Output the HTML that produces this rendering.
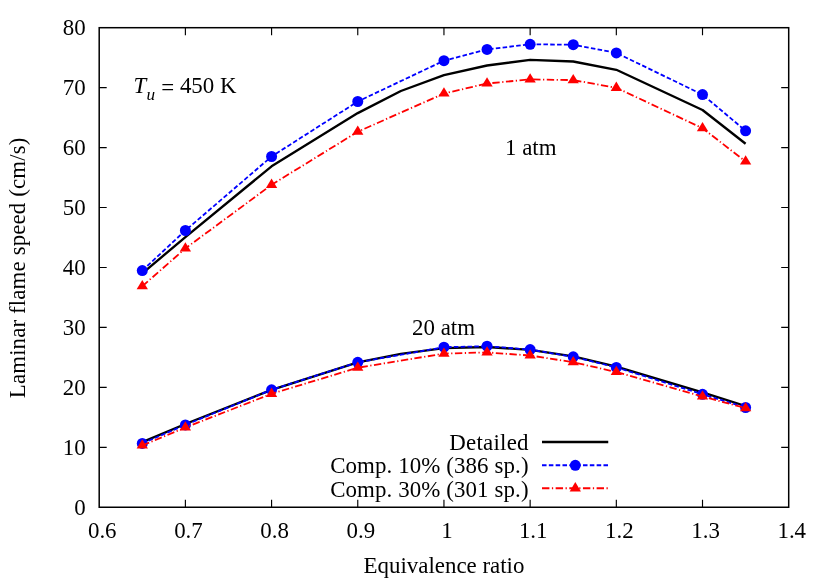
<!DOCTYPE html>
<html><head><meta charset="utf-8"><title>Laminar flame speed</title>
<style>html,body{margin:0;padding:0;background:#fff;}body{width:830px;height:581px;overflow:hidden;font-family:"Liberation Serif",serif;}</style></head>
<body>
<svg width="830" height="581" viewBox="0 0 830 581" style="display:block;will-change:transform">
<rect width="830" height="581" fill="#fff"/>
<g font-family="Liberation Serif, serif" font-size="22.9" fill="#000">
<text x="102.25" y="537.5" text-anchor="middle">0.6</text>
<text x="188.44" y="537.5" text-anchor="middle">0.7</text>
<text x="274.63" y="537.5" text-anchor="middle">0.8</text>
<text x="360.81" y="537.5" text-anchor="middle">0.9</text>
<text x="447.00" y="537.5" text-anchor="middle">1</text>
<text x="533.19" y="537.5" text-anchor="middle">1.1</text>
<text x="619.38" y="537.5" text-anchor="middle">1.2</text>
<text x="705.56" y="537.5" text-anchor="middle">1.3</text>
<text x="791.75" y="537.5" text-anchor="middle">1.4</text>
<text x="85.6" y="514.75" text-anchor="end">0</text>
<text x="85.6" y="454.81" text-anchor="end">10</text>
<text x="85.6" y="394.86" text-anchor="end">20</text>
<text x="85.6" y="334.92" text-anchor="end">30</text>
<text x="85.6" y="274.98" text-anchor="end">40</text>
<text x="85.6" y="215.03" text-anchor="end">50</text>
<text x="85.6" y="155.09" text-anchor="end">60</text>
<text x="85.6" y="95.14" text-anchor="end">70</text>
<text x="85.6" y="35.20" text-anchor="end">80</text>
<path d="M185.39 507.25V499.75M185.39 27.7V35.2M271.58 507.25V499.75M271.58 27.7V35.2M357.76 507.25V499.75M357.76 27.7V35.2M443.95 507.25V499.75M443.95 27.7V35.2M530.14 507.25V499.75M530.14 27.7V35.2M616.33 507.25V499.75M616.33 27.7V35.2M702.51 507.25V499.75M702.51 27.7V35.2M99.2 447.31H106.7M788.7 447.31H781.2M99.2 387.36H106.7M788.7 387.36H781.2M99.2 327.42H106.7M788.7 327.42H781.2M99.2 267.48H106.7M788.7 267.48H781.2M99.2 207.53H106.7M788.7 207.53H781.2M99.2 147.59H106.7M788.7 147.59H781.2M99.2 87.64H106.7M788.7 87.64H781.2" stroke="#000" stroke-width="1.15" fill="none"/>
<rect x="99.2" y="27.7" width="689.50" height="479.55" fill="none" stroke="#000" stroke-width="1.5"/>
<text x="444" y="572.5" text-anchor="middle">Equivalence ratio</text>
<text transform="translate(25.2,267.9) rotate(-90)" text-anchor="middle" textLength="260.6" lengthAdjust="spacing">Laminar flame speed (cm/s)</text>
<text x="133.5" y="93.1"><tspan font-style="italic">T</tspan><tspan font-style="italic" font-size="17.2" dy="6.9" dx="0.2">u</tspan><tspan dy="-4.9" dx="0.5"> =</tspan><tspan dy="-2"> 450 K</tspan></text>
<text x="505" y="155">1 atm</text>
<text x="412.1" y="335">20 atm</text>
<text x="528.5" y="449.8" text-anchor="end" textLength="79.3" lengthAdjust="spacing">Detailed</text>
<text x="528.5" y="473.2" text-anchor="end" textLength="198.3" lengthAdjust="spacing">Comp. 10% (386 sp.)</text>
<text x="528.5" y="496.6" text-anchor="end" textLength="198.3" lengthAdjust="spacing">Comp. 30% (301 sp.)</text>
</g>
<polyline points="142.29,273.30 185.39,237.20 271.58,166.30 357.76,113.10 400.86,91.00 443.95,75.20 487.04,65.50 530.14,59.80 573.23,61.50 616.33,69.80 702.51,110.00 745.61,143.70" fill="none" stroke="#000" stroke-width="2.35" stroke-linejoin="round"/>
<polyline points="142.29,270.60 185.39,230.50 271.58,156.50 357.76,101.50 443.95,60.70 487.04,49.40 530.14,44.30 573.23,44.70 616.33,52.90 702.51,94.60 745.61,130.80" fill="none" stroke="#0000ff" stroke-width="1.8" stroke-dasharray="4.55 2.28"/>
<circle cx="142.29" cy="270.60" r="5.5" fill="#0000ff"/>
<circle cx="185.39" cy="230.50" r="5.5" fill="#0000ff"/>
<circle cx="271.58" cy="156.50" r="5.5" fill="#0000ff"/>
<circle cx="357.76" cy="101.50" r="5.5" fill="#0000ff"/>
<circle cx="443.95" cy="60.70" r="5.5" fill="#0000ff"/>
<circle cx="487.04" cy="49.40" r="5.5" fill="#0000ff"/>
<circle cx="530.14" cy="44.30" r="5.5" fill="#0000ff"/>
<circle cx="573.23" cy="44.70" r="5.5" fill="#0000ff"/>
<circle cx="616.33" cy="52.90" r="5.5" fill="#0000ff"/>
<circle cx="702.51" cy="94.60" r="5.5" fill="#0000ff"/>
<circle cx="745.61" cy="130.80" r="5.5" fill="#0000ff"/>
<polyline points="142.29,286.20 185.39,248.40 271.58,184.80 357.76,131.70 443.95,93.50 487.04,83.50 530.14,79.40 573.23,80.10 616.33,87.80 702.51,128.20 745.61,161.50" fill="none" stroke="#ff0000" stroke-width="1.8" stroke-dasharray="7.4 2.5 1.25 2.5"/>
<path d="M142.29 279.99L136.64 289.31L147.94 289.31Z" fill="#ff0000"/>
<path d="M185.39 242.19L179.74 251.51L191.04 251.51Z" fill="#ff0000"/>
<path d="M271.58 178.59L265.93 187.91L277.23 187.91Z" fill="#ff0000"/>
<path d="M357.76 125.48L352.11 134.81L363.41 134.81Z" fill="#ff0000"/>
<path d="M443.95 87.28L438.30 96.61L449.60 96.61Z" fill="#ff0000"/>
<path d="M487.04 77.28L481.39 86.61L492.69 86.61Z" fill="#ff0000"/>
<path d="M530.14 73.19L524.49 82.51L535.79 82.51Z" fill="#ff0000"/>
<path d="M573.23 73.88L567.58 83.21L578.88 83.21Z" fill="#ff0000"/>
<path d="M616.33 81.58L610.68 90.91L621.98 90.91Z" fill="#ff0000"/>
<path d="M702.51 121.98L696.86 131.31L708.16 131.31Z" fill="#ff0000"/>
<path d="M745.61 155.28L739.96 164.61L751.26 164.61Z" fill="#ff0000"/>
<polyline points="142.29,442.10 185.39,424.00 271.58,389.80 357.76,362.30 400.86,353.90 443.95,348.20 487.04,347.00 530.14,349.80 573.23,356.40 616.33,366.60 702.51,392.30 745.61,406.00" fill="none" stroke="#000" stroke-width="2.35" stroke-linejoin="round"/>
<polyline points="142.29,443.40 185.39,424.90 271.58,389.80 357.76,362.30 443.95,347.20 487.04,346.20 530.14,349.60 573.23,356.80 616.33,367.40 702.51,394.30 745.61,407.50" fill="none" stroke="#0000ff" stroke-width="1.8" stroke-dasharray="4.55 2.28"/>
<circle cx="142.29" cy="443.40" r="5.5" fill="#0000ff"/>
<circle cx="185.39" cy="424.90" r="5.5" fill="#0000ff"/>
<circle cx="271.58" cy="389.80" r="5.5" fill="#0000ff"/>
<circle cx="357.76" cy="362.30" r="5.5" fill="#0000ff"/>
<circle cx="443.95" cy="347.20" r="5.5" fill="#0000ff"/>
<circle cx="487.04" cy="346.20" r="5.5" fill="#0000ff"/>
<circle cx="530.14" cy="349.60" r="5.5" fill="#0000ff"/>
<circle cx="573.23" cy="356.80" r="5.5" fill="#0000ff"/>
<circle cx="616.33" cy="367.40" r="5.5" fill="#0000ff"/>
<circle cx="702.51" cy="394.30" r="5.5" fill="#0000ff"/>
<circle cx="745.61" cy="407.50" r="5.5" fill="#0000ff"/>
<polyline points="142.29,445.50 185.39,427.50 271.58,393.80 357.76,367.70 443.95,353.60 487.04,352.40 530.14,355.50 573.23,362.20 616.33,372.00 702.51,396.50 745.61,408.10" fill="none" stroke="#ff0000" stroke-width="1.8" stroke-dasharray="7.4 2.5 1.25 2.5"/>
<path d="M142.29 439.29L136.64 448.61L147.94 448.61Z" fill="#ff0000"/>
<path d="M185.39 421.29L179.74 430.61L191.04 430.61Z" fill="#ff0000"/>
<path d="M271.58 387.59L265.93 396.91L277.23 396.91Z" fill="#ff0000"/>
<path d="M357.76 361.49L352.11 370.81L363.41 370.81Z" fill="#ff0000"/>
<path d="M443.95 347.39L438.30 356.71L449.60 356.71Z" fill="#ff0000"/>
<path d="M487.04 346.19L481.39 355.51L492.69 355.51Z" fill="#ff0000"/>
<path d="M530.14 349.29L524.49 358.61L535.79 358.61Z" fill="#ff0000"/>
<path d="M573.23 355.99L567.58 365.31L578.88 365.31Z" fill="#ff0000"/>
<path d="M616.33 365.79L610.68 375.11L621.98 375.11Z" fill="#ff0000"/>
<path d="M702.51 390.29L696.86 399.61L708.16 399.61Z" fill="#ff0000"/>
<path d="M745.61 401.89L739.96 411.21L751.26 411.21Z" fill="#ff0000"/>
<path d="M542.0 442.0H608.25" stroke="#000" stroke-width="2.6"/>
<path d="M542.0 465.3H608.25" stroke="#0000ff" stroke-width="2.1" stroke-dasharray="4.55 2.28"/>
<circle cx="575.30" cy="465.30" r="5.5" fill="#0000ff"/>
<path d="M542.0 488.3H608.25" stroke="#ff0000" stroke-width="2.1" stroke-dasharray="7.4 2.5 1.25 2.5"/>
<path d="M575.30 482.09L569.65 491.41L580.95 491.41Z" fill="#ff0000"/>
</svg>
</body></html>
